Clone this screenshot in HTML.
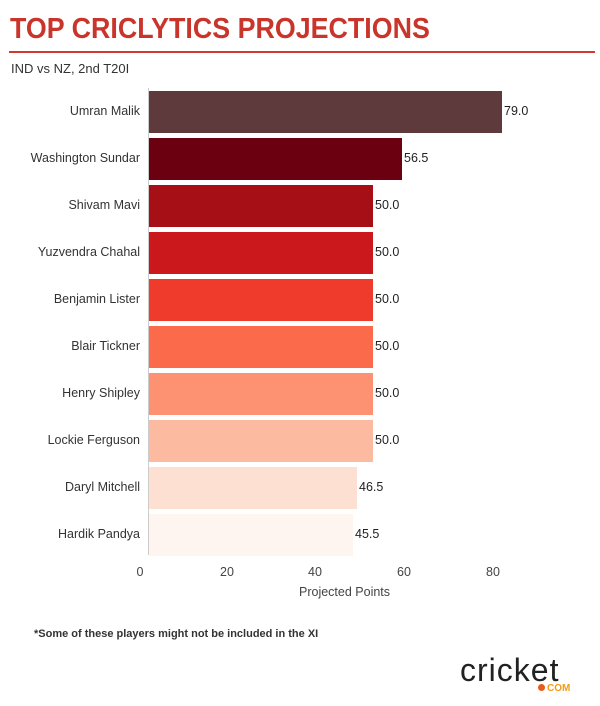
<!DOCTYPE html>
<html><head><meta charset="utf-8"><style>
body{margin:0;width:600px;height:706px;background:#fff;font-family:"Liberation Sans",Arial,sans-serif;position:relative;overflow:hidden}
.a{position:absolute;white-space:nowrap}
.t{left:10px;top:13px;font-size:29px;font-weight:bold;color:#c9342b;transform:scaleX(0.925);transform-origin:left top}
.line{left:9px;top:51px;width:586px;height:1.5px;background:#d33a2f}
.sub{left:11px;top:61px;font-size:13px;color:#333}
.lab{right:460px;font-size:12.5px;color:#333;text-align:right}
.bar{left:149px;height:42px}
.val{font-size:12.5px;color:#222}
.tick{top:565px;font-size:12.5px;color:#444;transform:translateX(-50%)}
</style></head><body>
<div class="a t">TOP CRICLYTICS PROJECTIONS</div>
<div class="a line"></div>
<div class="a sub">IND vs NZ, 2nd T20I</div>
<div class="a" style="left:148px;top:88px;width:1px;height:467px;background:#ccc"></div>

<div class="a bar" style="top:91px;width:353px;background:#5e3a3c"></div><div class="a lab" style="top:104px">Umran Malik</div><div class="a val" style="left:504px;top:104px">79.0</div>
<div class="a bar" style="top:138px;width:253px;background:#6b0010"></div><div class="a lab" style="top:151px">Washington Sundar</div><div class="a val" style="left:404px;top:151px">56.5</div>
<div class="a bar" style="top:185px;width:224px;background:#a50f15"></div><div class="a lab" style="top:198px">Shivam Mavi</div><div class="a val" style="left:375px;top:198px">50.0</div>
<div class="a bar" style="top:232px;width:224px;background:#cb181d"></div><div class="a lab" style="top:245px">Yuzvendra Chahal</div><div class="a val" style="left:375px;top:245px">50.0</div>
<div class="a bar" style="top:279px;width:224px;background:#ef3b2c"></div><div class="a lab" style="top:292px">Benjamin Lister</div><div class="a val" style="left:375px;top:292px">50.0</div>
<div class="a bar" style="top:326px;width:224px;background:#fb6a4a"></div><div class="a lab" style="top:339px">Blair Tickner</div><div class="a val" style="left:375px;top:339px">50.0</div>
<div class="a bar" style="top:373px;width:224px;background:#fc9272"></div><div class="a lab" style="top:386px">Henry Shipley</div><div class="a val" style="left:375px;top:386px">50.0</div>
<div class="a bar" style="top:420px;width:224px;background:#fcbba1"></div><div class="a lab" style="top:433px">Lockie Ferguson</div><div class="a val" style="left:375px;top:433px">50.0</div>
<div class="a bar" style="top:467px;width:208px;background:#fee0d2"></div><div class="a lab" style="top:480px">Daryl Mitchell</div><div class="a val" style="left:359px;top:480px">46.5</div>
<div class="a bar" style="top:514px;width:204px;background:#fff5f0"></div><div class="a lab" style="top:527px">Hardik Pandya</div><div class="a val" style="left:355px;top:527px">45.5</div>

<div class="a tick" style="left:140px">0</div>
<div class="a tick" style="left:227px">20</div>
<div class="a tick" style="left:315px">40</div>
<div class="a tick" style="left:404px">60</div>
<div class="a tick" style="left:493px">80</div>
<div class="a" style="left:299px;top:585px;font-size:12.5px;color:#444">Projected Points</div>
<div class="a" style="left:34px;top:628px;font-size:11px;font-weight:bold;color:#333">*Some of these players might not be included in the XI</div>
<div class="a" style="left:460px;top:652px;font-size:32px;color:#222;letter-spacing:1px">cricket</div>
<div class="a" style="left:538px;top:683px;font-size:10px;font-weight:bold;color:#f39c12"><span style="display:inline-block;width:7px;height:7px;border-radius:50%;background:#ea5a1c;margin-right:2px"></span>COM</div>
</body></html>
